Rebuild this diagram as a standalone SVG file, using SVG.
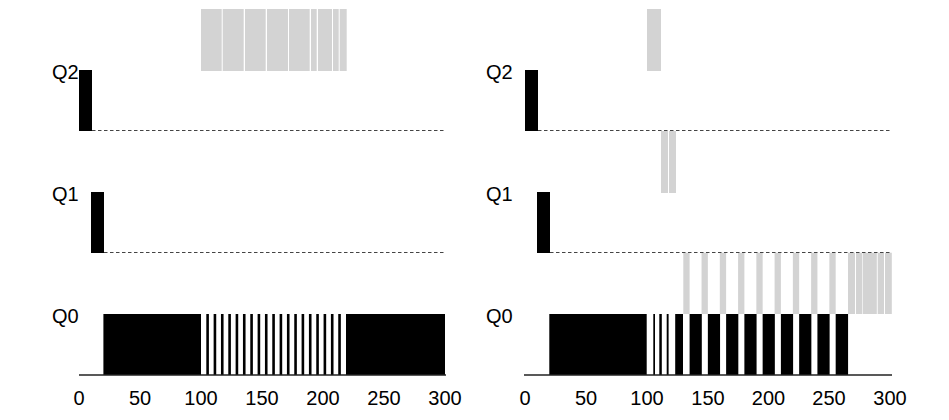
<svg xmlns="http://www.w3.org/2000/svg" width="949" height="420" viewBox="0 0 949 420">
<style>
.lbl{font-family:"Liberation Sans",Arial,sans-serif;font-size:20px;fill:#000}
.tick{font-family:"Liberation Sans",Arial,sans-serif;font-size:20px;fill:#000;text-anchor:middle}
.blk{fill:#000}
.gry{fill:#d3d3d3}
.dash{stroke:#444;stroke-width:1;stroke-dasharray:3.5,2.5;fill:none}
.base{stroke:#222;stroke-width:1.3;fill:none}
</style>
<rect width="949" height="420" fill="#fff"/>

<g id="left-panel">
  <g id="left-labels">
    <text class="lbl" x="52" y="78.5">Q2</text>
    <text class="lbl" x="52" y="200.5">Q1</text>
    <text class="lbl" x="52" y="322.5">Q0</text>
  </g>
  <g id="left-q2">
    <rect class="blk" x="79" y="70" width="13" height="61"/>
    <rect class="gry" x="201" y="9" width="20.7" height="62"/>
    <rect class="gry" x="222.7" y="9" width="21" height="62"/>
    <rect class="gry" x="245" y="9" width="20.7" height="62"/>
    <rect class="gry" x="267" y="9" width="21" height="62"/>
    <rect class="gry" x="289" y="9" width="20.7" height="62"/>
    <rect class="gry" x="311" y="9" width="5.7" height="62"/>
    <rect class="gry" x="318" y="9" width="14" height="62"/>
    <rect class="gry" x="333" y="9" width="5.7" height="62"/>
    <rect class="gry" x="339.7" y="9" width="7" height="62"/>
  </g>
  <g id="left-q1">
    <rect class="blk" x="91" y="192" width="13" height="61"/>
  </g>
  <g id="left-q0">
    <rect class="blk" x="103.4" y="314" width="97.6" height="61"/>
    <rect class="blk" x="206.3" y="314" width="2.6" height="61"/>
    <rect class="blk" x="213.63" y="314" width="2.6" height="61"/>
    <rect class="blk" x="220.96" y="314" width="2.6" height="61"/>
    <rect class="blk" x="228.29" y="314" width="2.6" height="61"/>
    <rect class="blk" x="235.62" y="314" width="2.6" height="61"/>
    <rect class="blk" x="242.95" y="314" width="2.6" height="61"/>
    <rect class="blk" x="250.28" y="314" width="2.6" height="61"/>
    <rect class="blk" x="257.61" y="314" width="2.6" height="61"/>
    <rect class="blk" x="264.94" y="314" width="2.6" height="61"/>
    <rect class="blk" x="272.27" y="314" width="2.6" height="61"/>
    <rect class="blk" x="279.6" y="314" width="2.6" height="61"/>
    <rect class="blk" x="286.93" y="314" width="2.6" height="61"/>
    <rect class="blk" x="294.26" y="314" width="2.6" height="61"/>
    <rect class="blk" x="301.59" y="314" width="2.6" height="61"/>
    <rect class="blk" x="308.92" y="314" width="2.6" height="61"/>
    <rect class="blk" x="316.25" y="314" width="2.6" height="61"/>
    <rect class="blk" x="323.58" y="314" width="2.6" height="61"/>
    <rect class="blk" x="330.91" y="314" width="2.6" height="61"/>
    <rect class="blk" x="338.24" y="314" width="2.6" height="61"/>
    <rect class="blk" x="346" y="314" width="99" height="61"/>
  </g>
  <g id="left-axis">
    <line class="dash" x1="92" y1="130.5" x2="445" y2="130.5"/>
    <line class="dash" x1="104" y1="252.5" x2="445" y2="252.5"/>
    <line class="base" x1="79" y1="375" x2="446" y2="375"/>
    <text class="tick" x="79" y="405">0</text>
    <text class="tick" x="140" y="405">50</text>
    <text class="tick" x="201" y="405">100</text>
    <text class="tick" x="262" y="405">150</text>
    <text class="tick" x="323" y="405">200</text>
    <text class="tick" x="384" y="405">250</text>
    <text class="tick" x="445" y="405">300</text>
  </g>
</g>

<g id="right-panel">
  <g id="right-labels">
    <text class="lbl" x="486" y="78.5">Q2</text>
    <text class="lbl" x="486" y="200.5">Q1</text>
    <text class="lbl" x="486" y="322.5">Q0</text>
  </g>
  <g id="right-q2">
    <rect class="blk" x="525" y="70" width="13" height="61"/>
    <rect class="gry" x="647" y="9" width="14" height="62"/>
  </g>
  <g id="right-q1">
    <rect class="blk" x="537" y="192" width="13" height="61"/>
    <rect class="gry" x="661" y="131" width="7" height="62"/>
    <rect class="gry" x="669" y="131" width="7" height="62"/>
  </g>
  <g id="right-q0">
    <rect class="blk" x="549.3" y="314" width="97.4" height="61"/>
    <rect class="blk" x="653.3" y="314" width="1.7" height="61"/>
    <rect class="blk" x="659.3" y="314" width="2.5" height="61"/>
    <rect class="blk" x="666.7" y="314" width="1.9" height="61"/>
    <rect class="blk" x="675.2" y="314" width="7.8" height="61"/>
    <rect class="blk" x="689.6" y="314" width="12.2" height="61"/>
    <rect class="blk" x="707.86" y="314" width="12.2" height="61"/>
    <rect class="blk" x="726.12" y="314" width="12.2" height="61"/>
    <rect class="blk" x="744.38" y="314" width="12.2" height="61"/>
    <rect class="blk" x="762.64" y="314" width="12.2" height="61"/>
    <rect class="blk" x="780.9" y="314" width="12.2" height="61"/>
    <rect class="blk" x="799.16" y="314" width="12.2" height="61"/>
    <rect class="blk" x="817.42" y="314" width="12.2" height="61"/>
    <rect class="blk" x="835.68" y="314" width="12.4" height="61"/>
    <rect class="gry" x="683.3" y="252.7" width="6.3" height="61.3"/>
    <rect class="gry" x="701.56" y="252.7" width="6.3" height="61.3"/>
    <rect class="gry" x="719.82" y="252.7" width="6.3" height="61.3"/>
    <rect class="gry" x="738.08" y="252.7" width="6.3" height="61.3"/>
    <rect class="gry" x="756.34" y="252.7" width="6.3" height="61.3"/>
    <rect class="gry" x="774.6" y="252.7" width="6.3" height="61.3"/>
    <rect class="gry" x="792.86" y="252.7" width="6.3" height="61.3"/>
    <rect class="gry" x="811.12" y="252.7" width="6.3" height="61.3"/>
    <rect class="gry" x="829.38" y="252.7" width="6.3" height="61.3"/>
    <rect class="gry" x="848" y="252.7" width="7" height="61.3"/>
    <rect class="gry" x="856" y="252.7" width="6.2" height="61.3"/>
    <rect class="gry" x="862.8" y="252.7" width="14" height="61.3"/>
    <rect class="gry" x="877.7" y="252.7" width="6.3" height="61.3"/>
    <rect class="gry" x="885" y="252.7" width="6.8" height="61.3"/>
  </g>
  <g id="right-axis">
    <line class="dash" x1="538" y1="130.5" x2="891" y2="130.5"/>
    <line class="dash" x1="550" y1="252.5" x2="891" y2="252.5"/>
    <line class="base" x1="524" y1="375" x2="892" y2="375"/>
    <text class="tick" x="525" y="405">0</text>
    <text class="tick" x="586" y="405">50</text>
    <text class="tick" x="647" y="405">100</text>
    <text class="tick" x="708" y="405">150</text>
    <text class="tick" x="768.5" y="405">200</text>
    <text class="tick" x="829" y="405">250</text>
    <text class="tick" x="890" y="405">300</text>
  </g>
</g>
</svg>
